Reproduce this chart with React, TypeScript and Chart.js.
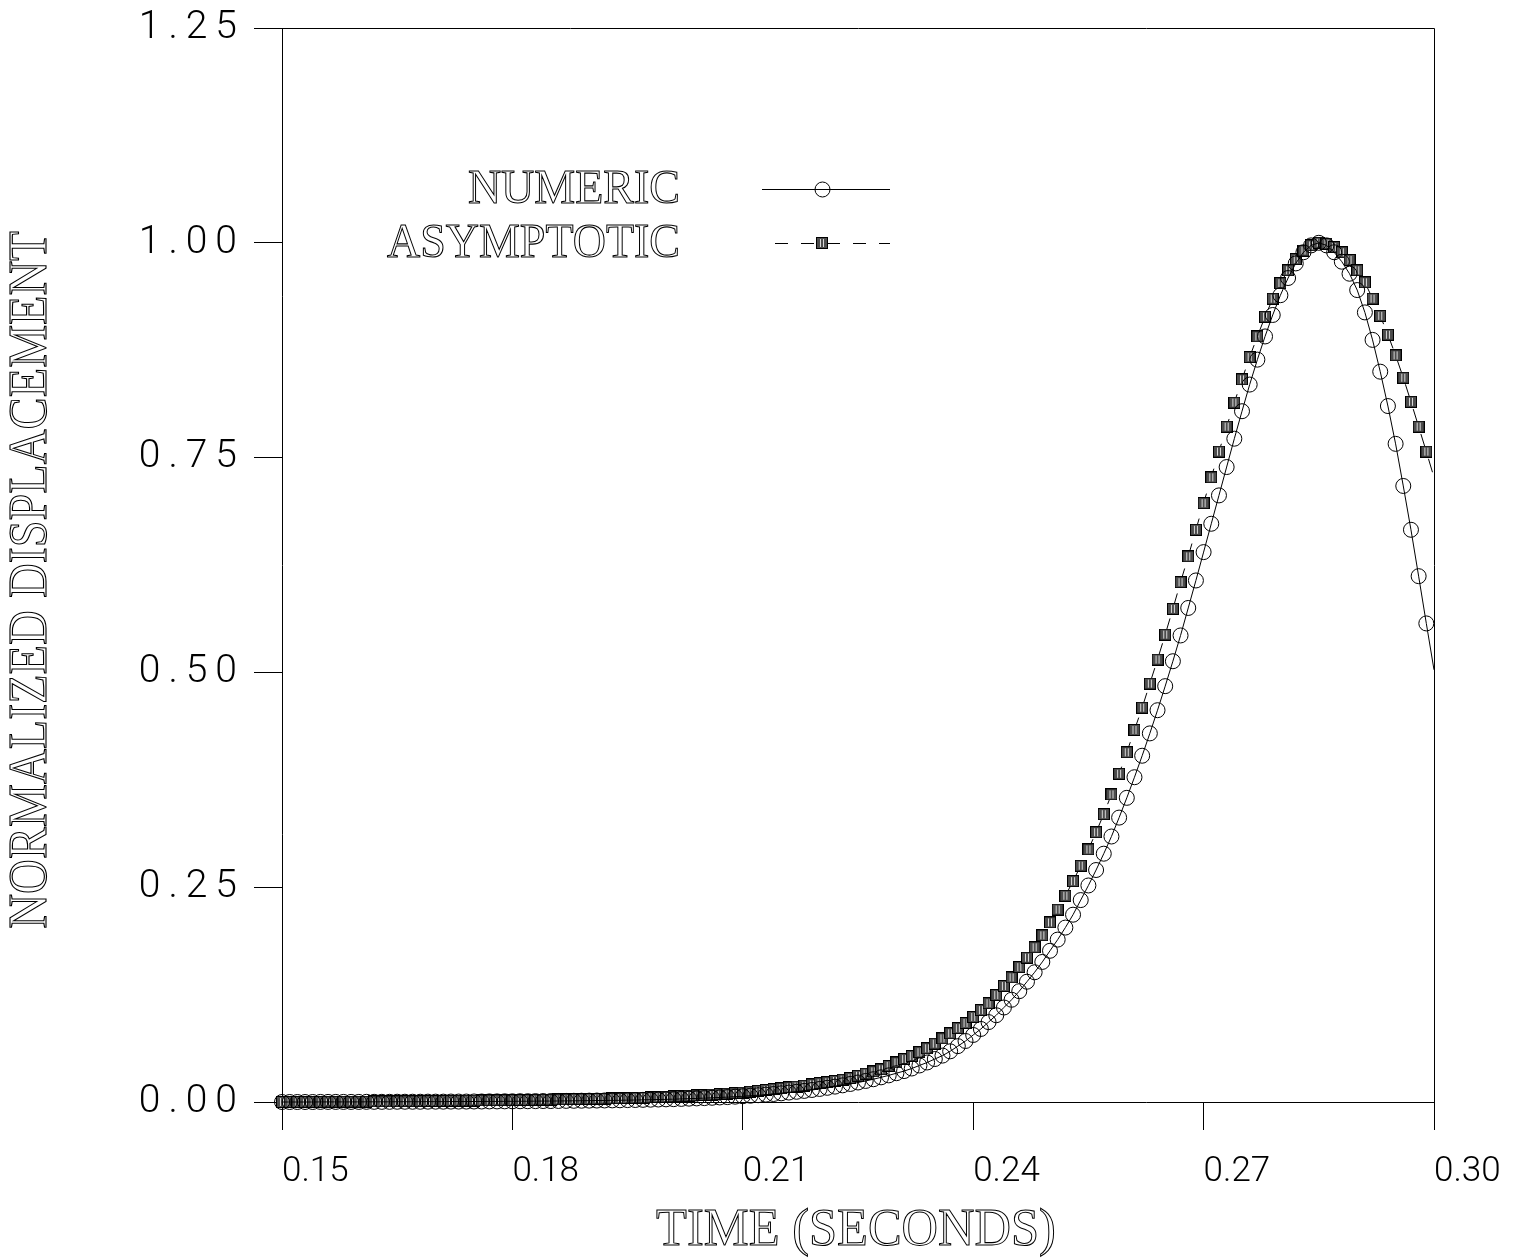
import { useEffect, useRef } from "react";
import { Chart, registerables } from "chart.js";

Chart.register(...registerables);

// Sample grid: one sample every millisecond from 0.150 s to 0.300 s
const T_START = 0.15;
const T_STEP = 0.001;

const NUMERIC = [
  0.0000, 0.0000, 0.0000, 0.0000, 0.0000, 0.0001, 0.0001, 0.0001, 0.0001, 0.0001,
  0.0001, 0.0002, 0.0002, 0.0002, 0.0002, 0.0003, 0.0003, 0.0003, 0.0003, 0.0004,
  0.0004, 0.0004, 0.0005, 0.0005, 0.0005, 0.0006, 0.0006, 0.0007, 0.0007, 0.0008,
  0.0008, 0.0009, 0.0009, 0.0010, 0.0011, 0.0011, 0.0012, 0.0013, 0.0014, 0.0015,
  0.0016, 0.0017, 0.0018, 0.0019, 0.0020, 0.0022, 0.0023, 0.0025, 0.0027, 0.0029,
  0.0031, 0.0033, 0.0036, 0.0039, 0.0042, 0.0045, 0.0049, 0.0053, 0.0057, 0.0062,
  0.0067, 0.0073, 0.0079, 0.0086, 0.0093, 0.0101, 0.0110, 0.0119, 0.0129, 0.0140,
  0.0152, 0.0165, 0.0179, 0.0194, 0.0210, 0.0227, 0.0245, 0.0265, 0.0287, 0.0310,
  0.0335, 0.0360, 0.0390, 0.0425, 0.0460, 0.0500, 0.0540, 0.0590, 0.0650, 0.0710,
  0.0780, 0.0850, 0.0930, 0.1010, 0.1100, 0.1190, 0.1290, 0.1400, 0.1510, 0.1630,
  0.1760, 0.1890, 0.2030, 0.2180, 0.2350, 0.2520, 0.2700, 0.2890, 0.3090, 0.3310,
  0.3540, 0.3780, 0.4030, 0.4290, 0.4560, 0.4840, 0.5130, 0.5430, 0.5750, 0.6070,
  0.6400, 0.6730, 0.7060, 0.7390, 0.7720, 0.8040, 0.8350, 0.8640, 0.8910, 0.9160,
  0.9390, 0.9590, 0.9760, 0.9890, 0.9970, 1.0000, 0.9970, 0.9890, 0.9780, 0.9640,
  0.9450, 0.9190, 0.8870, 0.8500, 0.8100, 0.7660, 0.7170, 0.6660, 0.6120, 0.5570,
  0.5030,
];

const ASYMPTOTIC = [
  0.0000, 0.0001, 0.0001, 0.0001, 0.0002, 0.0002, 0.0003, 0.0003, 0.0004, 0.0004,
  0.0005, 0.0005, 0.0006, 0.0007, 0.0007, 0.0008, 0.0009, 0.0009, 0.0010, 0.0011,
  0.0012, 0.0013, 0.0014, 0.0015, 0.0016, 0.0017, 0.0018, 0.0019, 0.0020, 0.0021,
  0.0022, 0.0023, 0.0024, 0.0026, 0.0027, 0.0028, 0.0030, 0.0031, 0.0033, 0.0034,
  0.0036, 0.0038, 0.0040, 0.0042, 0.0044, 0.0046, 0.0049, 0.0052, 0.0055, 0.0058,
  0.0061, 0.0065, 0.0069, 0.0073, 0.0077, 0.0082, 0.0087, 0.0092, 0.0098, 0.0104,
  0.0110, 0.0120, 0.0130, 0.0140, 0.0150, 0.0160, 0.0170, 0.0180, 0.0190, 0.0205,
  0.0220, 0.0230, 0.0245, 0.0260, 0.0280, 0.0305, 0.0330, 0.0355, 0.0380, 0.0420,
  0.0460, 0.0500, 0.0535, 0.0580, 0.0625, 0.0680, 0.0740, 0.0800, 0.0860, 0.0920,
  0.0990, 0.1070, 0.1150, 0.1245, 0.1350, 0.1450, 0.1570, 0.1680, 0.1800, 0.1940,
  0.2090, 0.2240, 0.2400, 0.2570, 0.2750, 0.2940, 0.3140, 0.3350, 0.3580, 0.3820,
  0.4070, 0.4330, 0.4590, 0.4870, 0.5150, 0.5440, 0.5740, 0.6050, 0.6350, 0.6660,
  0.6970, 0.7270, 0.7570, 0.7860, 0.8140, 0.8410, 0.8670, 0.8910, 0.9140, 0.9350,
  0.9530, 0.9680, 0.9810, 0.9910, 0.9970, 1.0000, 0.9990, 0.9950, 0.9890, 0.9800,
  0.9680, 0.9540, 0.9350, 0.9150, 0.8930, 0.8690, 0.8430, 0.8150, 0.7860, 0.7570,
  0.7270,
];

const X_TICKS = [0.15, 0.18, 0.21, 0.24, 0.27, 0.30];
const X_TICK_LABELS = ["0.15", "0.18", "0.21", "0.24", "0.27", "0.30"];
const Y_TICKS = [0, 0.25, 0.5, 0.75, 1.0, 1.25];
const Y_TICK_LABELS = ["0.00", "0.25", "0.50", "0.75", "1.00", "1.25"];

const SERIES_NAMES = ["NUMERIC", "ASYMPTOTIC"];
const X_TITLE = "TIME (SECONDS)";
const Y_TITLE = "NORMALIZED DISPLACEMENT";

const W = 1523;
const H = 1258;
const Y_LABEL_SPACING = 8;

// Filled square marker with light vertical hatching
function makeSquareMarker(): HTMLCanvasElement {
  const c = document.createElement("canvas");
  c.width = 12;
  c.height = 12;
  const g = c.getContext("2d")!;
  g.fillStyle = "#4d4d4d";
  g.fillRect(0, 0, 12, 12);
  g.strokeStyle = "#d8d8d8";
  g.lineWidth = 1;
  for (const x of [4.5, 7.5]) {
    g.beginPath();
    g.moveTo(x, 2);
    g.lineTo(x, 10);
    g.stroke();
  }
  g.strokeStyle = "#000";
  g.strokeRect(0.5, 0.5, 11, 11);
  return c;
}

function outlineText(
  ctx: CanvasRenderingContext2D,
  text: string,
  x: number,
  y: number,
  size: number,
  align: CanvasTextAlign,
  sy: number
) {
  ctx.save();
  ctx.translate(x, y);
  ctx.scale(1, sy);
  ctx.font = `${size}px "Liberation Serif", "DejaVu Serif", serif`;
  ctx.textAlign = align;
  ctx.textBaseline = "alphabetic";
  ctx.lineWidth = 1;
  ctx.strokeStyle = "#000";
  ctx.strokeText(text, 0, 0);
  ctx.restore();
}

// Keep the plot frame where it belongs: no extra room for edge labels
function pinScale(s: any, size: number, horizontal: boolean) {
  if (horizontal) s.height = size;
  else s.width = size;
  s.paddingTop = 0;
  s.paddingBottom = 0;
  s.paddingLeft = 0;
  s.paddingRight = 0;
}

export default function App() {
  const ref = useRef<HTMLCanvasElement | null>(null);

  useEffect(() => {
    document.body.style.margin = "0";
    const canvas = ref.current;
    if (!canvas) return;

    const times = NUMERIC.map((_, i) => +(T_START + i * T_STEP).toFixed(3));
    const last = times.length - 1;
    const square = makeSquareMarker();

    const framePlugin = {
      id: "frameAndText",
      // y tick labels (z = 1) are drawn after this hook, with wider letter spacing
      afterDatasetsDraw(chart: any) {
        (chart.ctx as any).letterSpacing = `${Y_LABEL_SPACING}px`;
      },
      afterDraw(chart: any) {
        const ctx = chart.ctx as CanvasRenderingContext2D;
        (ctx as any).letterSpacing = "0px";
        const a = chart.chartArea;
        ctx.save();
        ctx.strokeStyle = "#000";
        ctx.lineWidth = 1;
        ctx.beginPath();
        ctx.moveTo(Math.round(a.left) + 0.5, Math.round(a.top) + 0.5);
        ctx.lineTo(Math.round(a.right) + 0.5, Math.round(a.top) + 0.5);
        ctx.lineTo(Math.round(a.right) + 0.5, Math.round(a.bottom) + 0.5);
        ctx.stroke();

        // legend
        ctx.beginPath();
        ctx.moveTo(762, 189.5);
        ctx.lineTo(890, 189.5);
        ctx.stroke();
        ctx.beginPath();
        ctx.arc(822.5, 189.5, 7.5, 0, Math.PI * 2);
        ctx.stroke();

        ctx.setLineDash([13, 13]);
        ctx.beginPath();
        ctx.moveTo(775, 243.5);
        ctx.lineTo(890, 243.5);
        ctx.stroke();
        ctx.setLineDash([]);
        ctx.drawImage(square, 816, 237);

        outlineText(ctx, SERIES_NAMES[0], 680, 203, 46, "right", 1.07);
        outlineText(ctx, SERIES_NAMES[1], 680, 257, 46, "right", 1.07);

        // axis titles
        outlineText(ctx, X_TITLE, 856, 1245, 50.5, "center", 1.05);
        ctx.save();
        ctx.translate(46, 580);
        ctx.rotate(-Math.PI / 2);
        outlineText(ctx, Y_TITLE, 0, 0, 48.2, "center", 1.15);
        ctx.restore();
        ctx.restore();
      },
    };

    const tickFont = { family: 'Roboto, "DejaVu Sans", sans-serif', size: 35, weight: "300" };

    const chart = new Chart(canvas, {
      type: "line",
      data: {
        datasets: [
          {
            label: SERIES_NAMES[0],
            data: times.map((t, i) => ({ x: t, y: NUMERIC[i] })),
            borderColor: "#000",
            borderWidth: 1,
            pointStyle: "circle",
            pointRadius: times.map((_, i) => (i === last ? 0 : 7.5)),
            pointBorderColor: "#000",
            pointBackgroundColor: "rgba(0,0,0,0)",
            pointBorderWidth: 1,
            tension: 0,
            clip: false,
          },
          {
            label: SERIES_NAMES[1],
            data: times.map((t, i) => ({ x: t, y: ASYMPTOTIC[i] })),
            borderColor: "#000",
            borderWidth: 1,
            borderDash: [14, 12],
            pointStyle: square,
            pointRadius: times.map((_, i) => (i === last ? 0 : 6)),
            tension: 0,
            clip: false,
          },
        ],
      } as any,
      options: {
        animation: false,
        responsive: false,
        events: [],
        layout: { padding: { top: 28, right: 89, left: 0, bottom: 0 } },
        plugins: { legend: { display: false }, tooltip: { enabled: false } },
        scales: {
          x: {
            type: "linear",
            min: 0.15,
            max: 0.3,
            afterBuildTicks: (s: any) => {
              s.ticks = X_TICKS.map((v) => ({ value: v }));
            },
            afterFit: (s: any) => pinScale(s, H - 1102, true),
            ticks: {
              align: "start",
              padding: 21,
              color: "#000",
              font: tickFont,
              callback: (_v: any, i: number) => X_TICK_LABELS[i],
            },
            grid: {
              drawOnChartArea: false,
              drawTicks: true,
              tickLength: 28,
              color: "#000",
              lineWidth: 1,
            },
            border: { display: true, color: "#000", width: 1 },
          },
          y: {
            type: "linear",
            min: 0,
            max: 1.25,
            afterBuildTicks: (s: any) => {
              s.ticks = Y_TICKS.map((v) => ({ value: v }));
            },
            afterFit: (s: any) => pinScale(s, 282, false),
            ticks: {
              z: 1,
              padding: 17 - Y_LABEL_SPACING,
              color: "#000",
              font: { ...tickFont, size: 39 },
              callback: (_v: any, i: number) => Y_TICK_LABELS[i],
            },
            grid: {
              drawOnChartArea: false,
              drawTicks: true,
              tickLength: 28,
              color: "#000",
              lineWidth: 1,
            },
            border: { display: true, color: "#000", width: 1 },
          },
        },
      } as any,
      plugins: [framePlugin],
    });

    return () => chart.destroy();
  }, []);

  return (
    <div style={{ width: W, height: H, background: "#fff" }}>
      <canvas ref={ref} width={W} height={H} style={{ display: "block" }} />
    </div>
  );
}
